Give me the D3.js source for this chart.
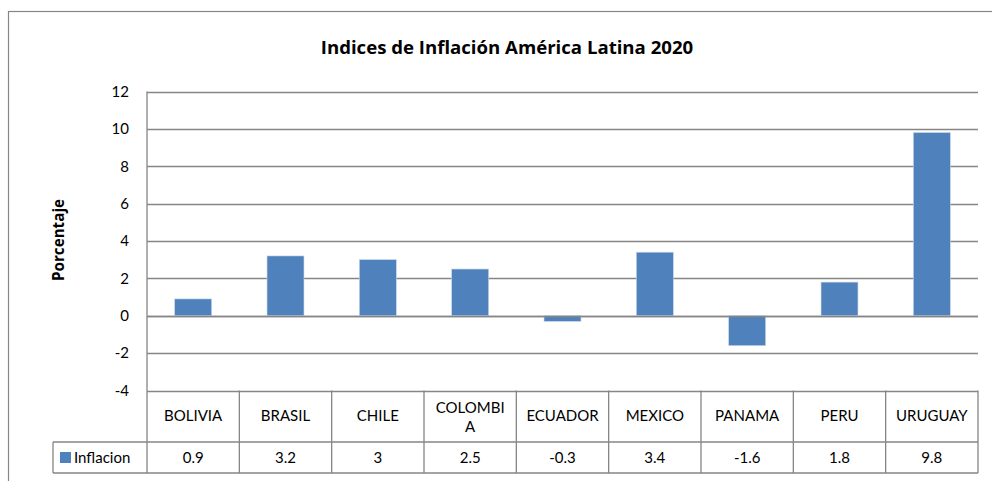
<!DOCTYPE html>
<html>
<head>
<meta charset="utf-8">
<script src="https://cdn.jsdelivr.net/npm/d3@7"></script>
<style>
  body { margin: 0; background: #fff; }
  text { font-family: Lato, "Open Sans", sans-serif; fill: #000; }
  .bold { font-family: "Open Sans", Lato, sans-serif; font-weight: bold; }
</style>
</head>
<body>
<div id="chart"></div>
<script>
// datos
const paises = ["BOLIVIA", "BRASIL", "CHILE", "COLOMBIA", "ECUADOR", "MEXICO", "PANAMA", "PERU", "URUGUAY"];
const etiquetas = [["BOLIVIA"], ["BRASIL"], ["CHILE"], ["COLOMBI", "A"], ["ECUADOR"], ["MEXICO"], ["PANAMA"], ["PERU"], ["URUGUAY"]];
const inflacion = [0.9, 3.2, 3, 2.5, -0.3, 3.4, -1.6, 1.8, 9.8];
const textoValores = ["0.9", "3.2", "3", "2.5", "-0.3", "3.4", "-1.6", "1.8", "9.8"];
const ticksY = [-4, -2, 0, 2, 4, 6, 8, 10, 12];

const width = 992, height = 481;
const plotLeft = 147, plotRight = 978, plotTop = 91.5, plotBottom = 390.5;
const rowMid = 442, rowEnd = 473, legendLeft = 53;
const gris = "#868686";
const azul = "#4F81BD";
const tam = "15px";

const svg = d3.select("#chart").append("svg")
    .attr("width", width)
    .attr("height", height);

// marco exterior
svg.append("rect")
    .attr("x", 8.5).attr("y", 11.5)
    .attr("width", 1100).attr("height", 600)
    .attr("fill", "none")
    .attr("stroke", gris)
    .attr("stroke-width", 1.2);

const y = d3.scaleLinear().domain([-4, 12]).range([plotBottom, plotTop]);
const xCol = d3.scaleBand().domain(paises).range([plotLeft, plotRight]);
const xBar = d3.scaleBand().domain(paises).range([plotLeft, plotRight])
    .paddingInner(0.6).paddingOuter(0.3);

// titulo
svg.append("text")
    .attr("class", "bold")
    .attr("x", 507).attr("y", 54)
    .attr("text-anchor", "middle")
    .style("font-size", "18.6px")
    .text("Indices de Inflación América Latina 2020");

// titulo eje y
svg.append("text")
    .attr("class", "bold")
    .attr("transform", `translate(64,240) rotate(-90)`)
    .attr("text-anchor", "middle")
    .style("font-size", "15.2px")
    .text("Porcentaje");

// lineas de cuadricula
svg.selectAll("line.grid")
    .data(ticksY)
    .enter()
    .append("line")
    .attr("class", "grid")
    .attr("x1", plotLeft).attr("x2", plotRight)
    .attr("y1", d => Math.round(y(d)) + 0.5)
    .attr("y2", d => Math.round(y(d)) + 0.5)
    .attr("stroke", gris)
    .attr("stroke-width", 1.3);

// etiquetas eje y
svg.selectAll("text.tick")
    .data(ticksY)
    .enter()
    .append("text")
    .attr("class", "tick")
    .attr("x", 129)
    .attr("y", d => y(d))
    .attr("dy", "0.35em")
    .attr("text-anchor", "end")
    .style("font-size", tam)
    .text(d => d);

// barras
svg.selectAll("rect.bar")
    .data(paises)
    .enter()
    .append("rect")
    .attr("class", "bar")
    .attr("x", d => xBar(d))
    .attr("width", xBar.bandwidth())
    .attr("y", (d, i) => y(Math.max(0, inflacion[i])))
    .attr("height", (d, i) => Math.abs(y(inflacion[i]) - y(0)))
    .attr("fill", azul)
    .attr("stroke", "#c5d5ea")
    .attr("stroke-width", 0.6);

// linea cero por encima de las barras
svg.append("line")
    .attr("x1", plotLeft).attr("x2", plotRight)
    .attr("y1", Math.round(y(0)) + 0.5).attr("y2", Math.round(y(0)) + 0.5)
    .attr("stroke", gris)
    .attr("stroke-width", 1.3);

// tabla de datos
const g = svg.append("g").attr("stroke", gris).attr("stroke-width", 1.3);
g.append("line").attr("x1", plotLeft).attr("x2", plotLeft).attr("y1", plotTop).attr("y2", rowEnd);
g.selectAll("line.col")
    .data(paises)
    .enter()
    .append("line")
    .attr("x1", d => xCol(d) + xCol.bandwidth())
    .attr("x2", d => xCol(d) + xCol.bandwidth())
    .attr("y1", plotBottom).attr("y2", rowEnd);
g.append("line").attr("x1", legendLeft).attr("x2", plotRight).attr("y1", rowMid).attr("y2", rowMid);
g.append("line").attr("x1", legendLeft).attr("x2", plotRight).attr("y1", rowEnd).attr("y2", rowEnd);
g.append("line").attr("x1", legendLeft).attr("x2", legendLeft).attr("y1", rowMid).attr("y2", rowEnd);

// categorias
svg.selectAll("text.cat")
    .data(paises)
    .enter()
    .append("text")
    .attr("class", "cat")
    .attr("x", d => xCol(d) + xCol.bandwidth() / 2)
    .attr("y", (d, i) => etiquetas[i].length > 1 ? 408 : 416)
    .attr("text-anchor", "middle")
    .style("font-size", tam)
    .each(function(d, i) {
        const t = d3.select(this);
        etiquetas[i].forEach((linea, j) => {
            t.append("tspan")
                .attr("x", xCol(d) + xCol.bandwidth() / 2)
                .attr("dy", j === 0 ? "0.35em" : "1.25em")
                .text(linea);
        });
    });

// valores
svg.selectAll("text.val")
    .data(paises)
    .enter()
    .append("text")
    .attr("class", "val")
    .attr("x", d => xCol(d) + xCol.bandwidth() / 2)
    .attr("y", 458)
    .attr("dy", "0.35em")
    .attr("text-anchor", "middle")
    .style("font-size", tam)
    .text((d, i) => textoValores[i]);

// leyenda
svg.append("rect")
    .attr("x", 60).attr("y", 452)
    .attr("width", 11).attr("height", 11)
    .attr("fill", azul);
svg.append("text")
    .attr("x", 74).attr("y", 458)
    .attr("dy", "0.35em")
    .style("font-size", tam)
    .text("Inflacion");
</script>
</body>
</html>
